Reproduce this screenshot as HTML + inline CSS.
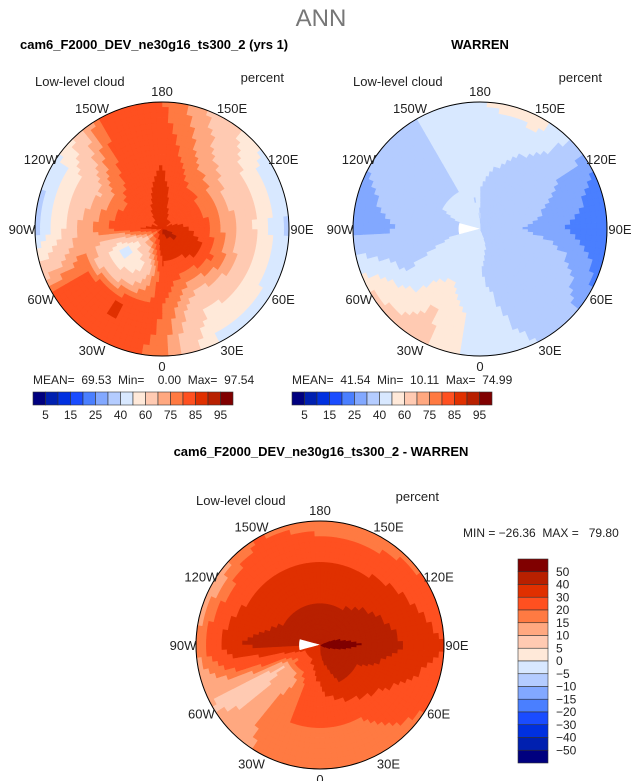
<!DOCTYPE html>
<html><head><meta charset="utf-8"><style>
body{margin:0;background:#fff;}
svg{display:block;font-family:"Liberation Sans",sans-serif;}
text{white-space:pre;}
</style></head><body>
<svg id="s" width="642" height="781" viewBox="0 0 642 781">
<text x="321" y="26" text-anchor="middle" font-size="24" fill="#777" font-weight="300">ANN</text>
<text x="20" y="49" font-size="13" font-weight="bold">cam6_F2000_DEV_ne30g16_ts300_2 (yrs 1)</text>
<text x="480" y="49" text-anchor="middle" font-size="13" font-weight="bold">WARREN</text>
<text x="321" y="456" text-anchor="middle" font-size="13" font-weight="bold">cam6_F2000_DEV_ne30g16_ts300_2 - WARREN</text>
<text x="463" y="537" font-size="12" fill="#222">MIN = −26.36  MAX =   79.80</text>
<g id="maps"></g>
</svg>
<script>
// lon sectors: 0,30E,60E,90E,120E,150E,180,150W,120W,90W,60W,30W ; bands outer->pole
const lons=[0,30,60,90,120,150,180,210,240,270,300,330];
const modelVals=[[78,80,84,90],[45,62,82,92],[42,68,86,93],[38,65,82,90],[40,65,80,86],[66,72,82,86],[80,84,86,86],[80,82,84,86],[40,65,80,86],[35,70,84,86],[80,80,45,86],[84,86,55,90]];
const obsVals=[[45,45,40,45],[40,35,35,40],[25,35,40,40],[20,25,30,35],[25,30,35,40],[55,40,35,40],[50,45,40,40],[40,40,40,40],[30,35,40,45],[25,30,35,null],[62,40,42,45],[65,60,45,45]];
const diffVals=[[15,20,30,40],[15,20,40,50],[20,30,40,50],[30,40,50,55],[20,35,45,50],[15,30,40,45],[15,30,40,45],[20,30,40,45],[10,30,40,45],[15,40,45,null],[10,5,10,40],[15,20,15,40]];
const absLevels=[5,10,15,20,25,30,40,50,60,70,75,80,85,90,95];
const absTicks=["5","15","25","40","60","75","85","95"];
const diffLevels=[-50,-40,-30,-20,-15,-10,-5,0,5,10,15,20,30,40,50];
const diffTicks=["50","40","30","20","15","10","5","0","−5","−10","−15","−20","−30","−40","−50"];
const colors=['#00007f','#0020b0','#0030e0','#1a4cff','#4a7fff','#82a8ff','#b4ccff','#d8e8ff','#ffe9d9','#ffcab2','#ffa880','#ff7a42','#ff5020','#e03000','#b82000','#800000'];
const NS='http://www.w3.org/2000/svg';
const g=document.getElementById('maps');
function mk(t,a,p){const e=document.createElementNS(NS,t);for(const k in a)e.setAttribute(k,a[k]);(p||g).appendChild(e);return e;}
function col(v,lev){if(v===null)return '#fff';let i=0;while(i<lev.length&&v>=lev[i])i++;return colors[i];}
function val(data,lonDeg,f){
  const n=lons.length;const p=((lonDeg%360)+360)%360/30;const i0=Math.floor(p)%n,i1=(i0+1)%n,t=p-Math.floor(p);
  const b=f*3;const j0=Math.min(3,Math.floor(b)),j1=Math.min(3,j0+1),u=b-j0;
  const near=data[t<0.5?i0:i1][u<0.5?j0:j1];
  if(near===null)return null;
  const c=[[data[i0][j0],(1-t)*(1-u)],[data[i1][j0],t*(1-u)],[data[i0][j1],(1-t)*u],[data[i1][j1],t*u]];
  let s=0,w=0;c.forEach(([v,k])=>{if(v!==null){s+=v*k;w+=k;}});
  return w>0?s/w:near;
}
function pt(cx,cy,r,lon){const a=lon*Math.PI/180;return [cx+r*Math.sin(a),cy+r*Math.cos(a)];}
function map(name,cx,cy,R,data,lev){
  const grp=mk('g',{});
  
  
  const NL=120,NR=24;
  for(let i=0;i<NL;i++)for(let j=0;j<NR;j++){
    const l0=i*360/NL,l1=(i+1)*360/NL,r0=R*(1-j/NR),r1=R*(1-(j+1)/NR);
    const v=val(data,(l0+l1)/2,(j+0.5)/NR);
    const A=pt(cx,cy,r0,l0),B=pt(cx,cy,r0,l1),C=pt(cx,cy,r1,l1),D=pt(cx,cy,r1,l0);
    const c=col(v,lev);
    const e=mk('path',{d:`M${A}L${B}L${C}L${D}Z`,fill:c,stroke:c,'stroke-width':0.6},grp);
    
    
  }
  const o=mk('circle',{cx,cy,r:R,fill:'none',stroke:'#000','stroke-width':1},grp);
  
  
  const labs=['0','30E','60E','90E','120E','150E','180','150W','120W','90W','60W','30W'];
  labs.forEach((s,k)=>{const [x,y]=pt(cx,cy,R+13,k*30);
    const dy=(k===0)?2:(k===6?7:5);
    const t=mk('text',{x,y:y+dy,'text-anchor':'middle','font-size':13,fill:'#222'},grp);t.textContent=s;
    
    });
  const t1=mk('text',{x:cx-R,y:cy-R-16,'font-size':13,fill:'#222'},grp);t1.textContent='Low-level cloud';
  
  
  const t2=mk('text',{x:cx+R-5,y:cy-R-20,'text-anchor':'end','font-size':13,fill:'#222'},grp);t2.textContent='percent';
  
  
}
map('model-map',162,229,127,modelVals,absLevels);
map('obs-map',480,229,127,obsVals,absLevels);
map('diff-map',320,645,124,diffVals,diffLevels);
function hbar(name,x0,y0,stats){
  const grp=mk('g',{});
  
  
  const w=200/16;
  colors.forEach((c,i)=>{const r=mk('rect',{x:x0+i*w,y:y0,width:w,height:13,fill:c,stroke:'#333','stroke-width':0.6},grp);
    
    });
  absTicks.forEach((s,k)=>{const t=mk('text',{x:x0+(2*k+1)*w,y:y0+27,'text-anchor':'middle','font-size':12,fill:'#222'},grp);t.textContent=s;
    
    });
  const t=mk('text',{x:x0,y:y0-8,'font-size':12,fill:'#222'},grp);t.textContent=stats;
  
  
}
hbar('model-colorbar',33,392,'MEAN=  69.53  Min=    0.00  Max=  97.54');
hbar('obs-colorbar',292,392,'MEAN=  41.54  Min=  10.11  Max=  74.99');
(function(){
  const grp=mk('g',{});
  
  
  const h=204/16;
  colors.slice().reverse().forEach((c,i)=>{const r=mk('rect',{x:518,y:559+i*h,width:30,height:h,fill:c,stroke:'#333','stroke-width':0.6},grp);
    
    });
  diffTicks.forEach((s,k)=>{const t=mk('text',{x:556,y:559+(k+1)*h+4,'font-size':12,fill:'#222'},grp);t.textContent=s;
    
    });
})();
</script>
</body></html>
